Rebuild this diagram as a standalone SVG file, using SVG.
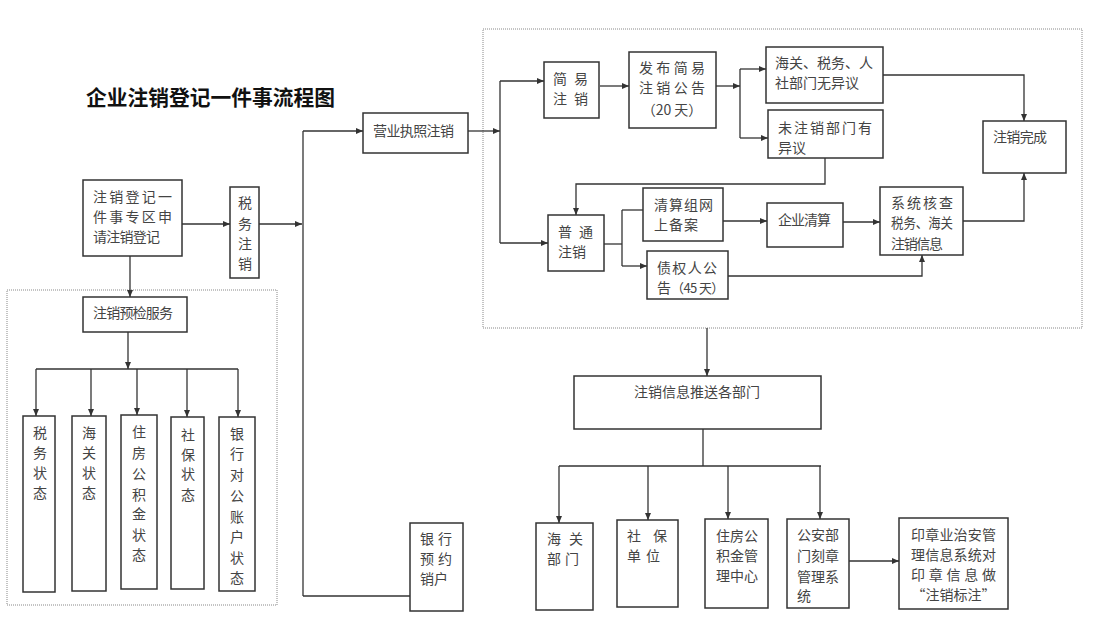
<svg xmlns="http://www.w3.org/2000/svg" width="1106" height="625" viewBox="0 0 1106 625">
<defs>
<marker id="arr" markerUnits="userSpaceOnUse" markerWidth="8" markerHeight="6" refX="7" refY="3" orient="auto">
<path d="M0,0 L7,3 L0,6 z" fill="#333"/>
</marker>
<style>
.box{fill:#fff;stroke:#333;stroke-width:1.5}
.dot{fill:none;stroke:#888;stroke-width:1;stroke-dasharray:1 1}
.t{font-family:"Noto Sans CJK SC","Noto Sans CJK JP",sans-serif;font-size:14px;fill:#444}
.m{text-anchor:middle}
.title{font-family:"Noto Sans CJK SC","Noto Sans CJK JP",sans-serif;font-size:21px;font-weight:700;fill:#111}
.c path{fill:none;stroke:#333;stroke-width:1.3}
.a{marker-end:url(#arr)}
</style>
</defs>
<rect width="1106" height="625" fill="#fff"/>
<text class="title" x="86" y="104.5" textLength="249" lengthAdjust="spacingAndGlyphs">企业注销登记一件事流程图</text>

<rect class="dot" x="7" y="290" width="270" height="315"/>
<rect class="dot" x="483" y="29" width="599" height="299"/>

<g class="c" id="connectors">
<path class="a" d="M182,224 H230"/>
<path class="a" d="M259,224 H302"/>
<path d="M303,131 V596"/>
<path class="a" d="M303,131 H363"/>
<path d="M303,596 H410"/>
<path class="a" d="M468,131 H500"/>
<path d="M500,81 V243"/>
<path class="a" d="M500,81 H544"/>
<path class="a" d="M500,243 H548"/>
<path class="a" d="M600,86 H629"/>
<path class="a" d="M716,86 H740"/>
<path d="M740,69 V138"/>
<path class="a" d="M740,69 H766"/>
<path class="a" d="M740,138 H768"/>
<path class="a" d="M883,75 H1024 V121"/>
<path class="a" d="M825,158 V184 H576 V215"/>
<path d="M604,244 H622"/>
<path d="M622,210 V266"/>
<path d="M622,210 H643"/>
<path class="a" d="M622,266 H647"/>
<path class="a" d="M723,221 H767"/>
<path class="a" d="M843,222 H880"/>
<path class="a" d="M728,276 H922 V255"/>
<path class="a" d="M963,221 H1024 V173"/>
<path class="a" d="M707,328 V376"/>
<path d="M703,429 V466"/>
<path d="M559,466 H821"/>
<path class="a" d="M559,466 V523"/>
<path class="a" d="M648,466 V520"/>
<path class="a" d="M728,466 V519"/>
<path class="a" d="M820,466 V519"/>
<path class="a" d="M849,561 H899"/>
<path class="a" d="M130,256 V297"/>
<path class="a" d="M128,332 V369"/>
<path d="M36,369 H238"/>
<path class="a" d="M36,369 V416"/>
<path class="a" d="M91,369 V416"/>
<path class="a" d="M137,369 V415"/>
<path class="a" d="M187,369 V417"/>
<path class="a" d="M238,369 V417"/>
</g>

<g id="apply">
<rect class="box" x="83" y="180" width="99" height="76"/>
<text class="t" x="93 109.25 125.5 141.75 158" y="202">注销登记一</text>
<text class="t" x="93 109.25 125.5 141.75 158" y="222">件事专区申</text>
<text class="t" x="93" y="242" textLength="67">请注销登记</text>
</g>
<g id="tax">
<rect class="box" x="230" y="187" width="29" height="91"/>
<text class="t m" x="245 245 245 245" y="208 229 249 269">税务注销</text>
</g>
<g id="license">
<rect class="box" x="363" y="113" width="105" height="40"/>
<text class="t" x="373" y="136" textLength="81">营业执照注销</text>
</g>
<g id="simple">
<rect class="box" x="544" y="62" width="55" height="56"/>
<text class="t" x="553 574" y="84">简易</text>
<text class="t" x="553 574" y="104">注销</text>
</g>
<g id="notice20">
<rect class="box" x="629" y="52" width="87" height="76"/>
<text class="t" x="639 656.3 673.7 691" y="73">发布简易</text>
<text class="t" x="639 656.3 673.7 691" y="93">注销公告</text>
<text class="t m" x="672" y="115">（20 天）</text>
</g>
<g id="noobj">
<rect class="box" x="766" y="47" width="117" height="56"/>
<text class="t" x="775" y="68">海关、税务、人</text>
<text class="t" x="775" y="88">社部门无异议</text>
</g>
<g id="obj">
<rect class="box" x="768" y="110" width="115" height="48"/>
<text class="t" x="778 794 810 826 842 858" y="133">未注销部门有</text>
<text class="t" x="778" y="153">异议</text>
</g>
<g id="done">
<rect class="box" x="983" y="121" width="83" height="52"/>
<text class="t" x="993" y="142" textLength="54">注销完成</text>
</g>
<g id="normal">
<rect class="box" x="548" y="215" width="56" height="56"/>
<text class="t" x="558 579" y="237">普通</text>
<text class="t" x="558" y="257">注销</text>
</g>
<g id="liqgroup">
<rect class="box" x="643" y="188" width="80" height="53"/>
<text class="t" x="654" y="210" textLength="59">清算组网</text>
<text class="t" x="654" y="230" textLength="44">上备案</text>
</g>
<g id="creditor">
<rect class="box" x="647" y="251" width="81" height="48"/>
<text class="t" x="657" y="273" textLength="60">债权人公</text>
<text class="t" x="657" y="293">告<tspan style="font-size:13px;letter-spacing:-0.6px">（45 天）</tspan></text>
</g>
<g id="liquidate">
<rect class="box" x="767" y="203" width="76" height="44"/>
<text class="t" x="778" y="225" textLength="53">企业清算</text>
</g>
<g id="check">
<rect class="box" x="880" y="187" width="83" height="68"/>
<text class="t" x="891 907 923 939" y="208">系统核查</text>
<text class="t" x="891" y="228" textLength="62" lengthAdjust="spacingAndGlyphs">税务、海关</text>
<text class="t" x="891" y="249" textLength="52">注销信息</text>
</g>
<g id="push">
<rect class="box" x="574" y="376" width="247" height="53"/>
<text class="t m" x="697" y="397">注销信息推送各部门</text>
</g>
<g id="customs">
<rect class="box" x="536" y="523" width="57" height="87"/>
<text class="t" x="547 569" y="544">海关</text>
<text class="t" x="547 565" y="564">部门</text>
</g>
<g id="social">
<rect class="box" x="617" y="520" width="61" height="87"/>
<text class="t" x="627 653" y="541">社保</text>
<text class="t" x="627 646" y="561">单位</text>
</g>
<g id="fund">
<rect class="box" x="705" y="519" width="63" height="89"/>
<text class="t" x="716" y="541">住房公</text>
<text class="t" x="716" y="561">积金管</text>
<text class="t" x="716" y="581">理中心</text>
</g>
<g id="police">
<rect class="box" x="787" y="519" width="62" height="89"/>
<text class="t" x="797" y="540">公安部</text>
<text class="t" x="797" y="561">门刻章</text>
<text class="t" x="797" y="582">管理系</text>
<text class="t" x="797" y="601">统</text>
</g>
<g id="seal">
<rect class="box" x="899" y="518" width="109" height="91"/>
<text class="t" x="911" y="540" textLength="85">印章业治安管</text>
<text class="t" x="911" y="560" textLength="85">理信息系统对</text>
<text class="t" x="911 928.75 946.5 964.25 982" y="580">印章信息做</text>
<text class="t m" x="953.5" y="600">“注销标注”</text>
</g>
<g id="bank">
<rect class="box" x="410" y="523" width="53" height="88"/>
<text class="t" x="420 438" y="544">银行</text>
<text class="t" x="420 438" y="564">预约</text>
<text class="t" x="420" y="584">销户</text>
</g>
<g id="precheck">
<rect class="box" x="83" y="297" width="104" height="35"/>
<text class="t" x="93" y="318" textLength="80">注销预检服务</text>
</g>
<g id="s-tax">
<rect class="box" x="23" y="416" width="32" height="176"/>
<text class="t m" x="40 40 40 40" y="438 458 478 498">税务状态</text>
</g>
<g id="s-customs">
<rect class="box" x="72" y="416" width="34" height="175"/>
<text class="t m" x="89 89 89 89" y="438 458 478 498">海关状态</text>
</g>
<g id="s-fund">
<rect class="box" x="121" y="415" width="36" height="174"/>
<text class="t m" x="139 139 139 139 139 139 139" y="437 458 479 500 519 540 560">住房公积金状态</text>
</g>
<g id="s-social">
<rect class="box" x="171" y="417" width="33" height="172"/>
<text class="t m" x="188 188 188 188" y="440 460 479 500">社保状态</text>
</g>
<g id="s-bank">
<rect class="box" x="219" y="417" width="36" height="174"/>
<text class="t m" x="237 237 237 237 237 237 237 237" y="439 459 480 501 522 542 563 583">银行对公账户状态</text>
</g>
</svg>
